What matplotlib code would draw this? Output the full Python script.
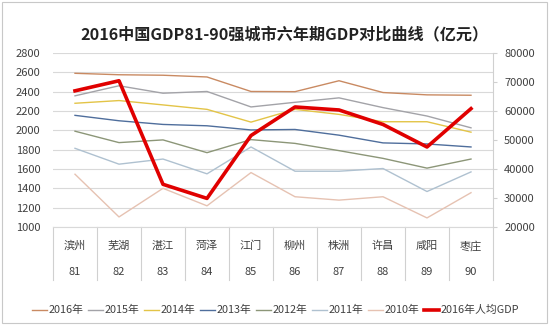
import matplotlib.pyplot as plt
from matplotlib.lines import Line2D
from matplotlib.patches import Rectangle

plt.rcParams['font.family'] = ['Noto Sans CJK SC', 'DejaVu Sans']

cities = ['滨州', '芜湖', '湛江', '菏泽', '江门', '柳州', '株洲', '许昌', '咸阳', '枣庄']
ranks = ['81', '82', '83', '84', '85', '86', '87', '88', '89', '90']

# GDP by year (亿元), left axis
gdp_2016 = [2590, 2575, 2570, 2552, 2402, 2400, 2513, 2391, 2367, 2363]
gdp_2015 = [2357, 2461, 2384, 2402, 2242, 2290, 2336, 2235, 2148, 2026]
gdp_2014 = [2280, 2308, 2263, 2217, 2085, 2217, 2165, 2089, 2089, 1981]
gdp_2013 = [2155, 2099, 2061, 2047, 2004, 2009, 1950, 1870, 1859, 1828]
gdp_2012 = [1991, 1873, 1901, 1769, 1904, 1865, 1790, 1710, 1609, 1703]
gdp_2011 = [1814, 1650, 1703, 1550, 1828, 1577, 1577, 1605, 1367, 1570]
gdp_2010 = [1546, 1104, 1400, 1219, 1563, 1313, 1278, 1313, 1094, 1355]

# per-capita GDP 2016 (元), right axis
per_capita_2016 = [66950, 70430, 34720, 29860, 51540, 61390, 60350, 55360, 47590, 60810]

series = [
    ('2016年', gdp_2016, '#C98A62'),
    ('2015年', gdp_2015, '#A3A3A8'),
    ('2014年', gdp_2014, '#E3C447'),
    ('2013年', gdp_2013, '#4F6E9C'),
    ('2012年', gdp_2012, '#8C9678'),
    ('2011年', gdp_2011, '#AFC1D0'),
    ('2010年', gdp_2010, '#E6C2B2'),
]
red_label = '2016年人均GDP'

fig = plt.figure(figsize=(5.5, 3.28), dpi=100)
ax = fig.add_axes([53 / 550, 1 - 227 / 328, 440 / 550, 174 / 328])
x = list(range(len(cities)))

for name, vals, col in series:
    ax.plot(x, vals, color=col, lw=1.0, zorder=3)

ax.set_xlim(-0.5, len(cities) - 0.5)
ax.set_ylim(1000, 2800)
ax.set_yticks(range(1000, 2801, 200))
ax.grid(axis='y', color='#D9D9D9', lw=0.8)
ax.set_axisbelow(True)
ax.tick_params(axis='y', length=0, labelsize=8, labelcolor='#404040', pad=9)
ax.set_xticks([])
for s in ['top', 'left', 'right']:
    ax.spines[s].set_visible(False)
ax.spines['bottom'].set_color('#D9D9D9')

ax2 = ax.twinx()
ax2.plot(x, per_capita_2016, color='#E00000', lw=2.6, zorder=5)
ax2.set_ylim(20000, 80000)
ax2.set_yticks(range(20000, 80001, 10000))
ax2.tick_params(axis='y', length=3, color='#D0D0D0', labelsize=8,
                labelcolor='#404040', pad=5)
for s in ['top', 'left', 'bottom']:
    ax2.spines[s].set_visible(False)
ax2.spines['right'].set_color('#D0D0D0')

# category table under the plot
trans = ax.get_xaxis_transform()
for i in range(len(cities) + 1):
    ax.plot([i - 0.5, i - 0.5], [0, -53 / 174], transform=trans, color='#D0D0D0',
            lw=0.8, clip_on=False)
for i, (c, r) in enumerate(zip(cities, ranks)):
    ax.text(i, -19 / 174, c, transform=trans, ha='center', va='center',
            fontsize=8, color='#404040')
    ax.text(i, -45 / 174, r, transform=trans, ha='center', va='center',
            fontsize=8, color='#404040')

fig.suptitle('2016中国GDP81-90强城市六年期GDP对比曲线（亿元）', x=0.517, y=1 - 26 / 328,
             fontsize=11.6, fontweight='bold', color='#222222')

# legend row
ly = 1 - 310 / 328
items = [(n, c, 1.0) for n, _, c in series] + [(red_label, '#E00000', 2.6)]
for i, (name, col, w) in enumerate(items):
    x0 = (32 + i * 56) / 550
    fig.add_artist(Line2D([x0, x0 + 15 / 550], [ly, ly], color=col, lw=w))
    fig.text(x0 + 17 / 550, ly, name, ha='left', va='center', fontsize=7.8,
             color='#404040')

fig.add_artist(Rectangle((2 / 550, 5 / 328), 545 / 550, 321 / 328, fill=False,
                         edgecolor='#C8C8C8', lw=0.8, transform=fig.transFigure))

fig.savefig('out.png', dpi=100)
